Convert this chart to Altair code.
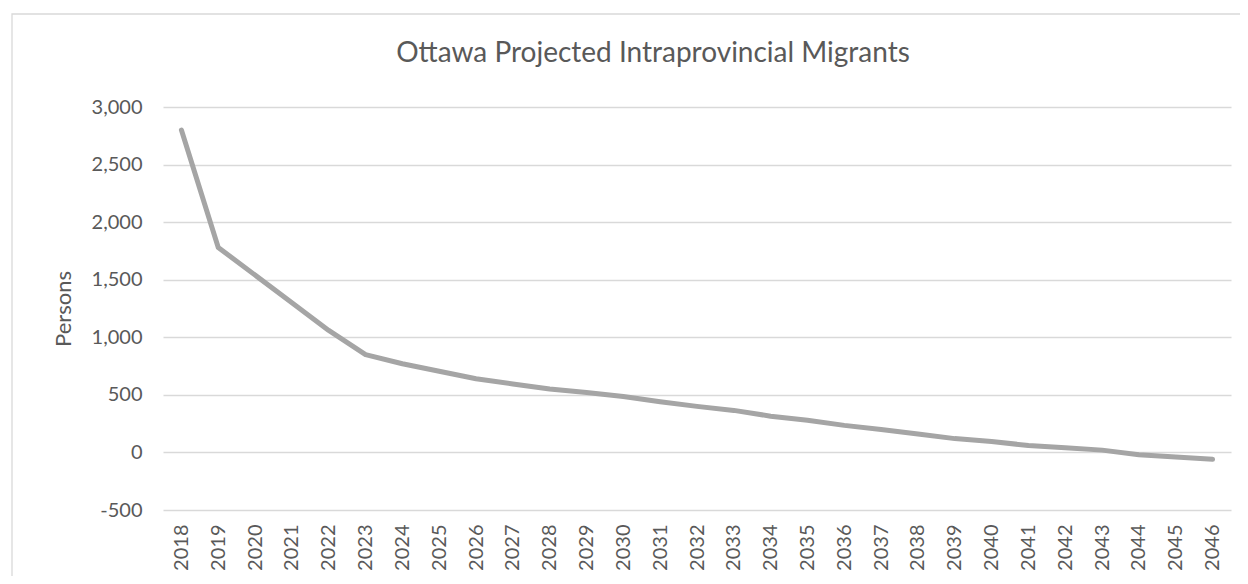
import altair as alt
import pandas as pd

years = [str(y) for y in range(2018, 2047)]
migrants = [2800, 1780, 1540, 1300, 1060, 850, 770, 705, 640, 595,
            550, 520, 485, 440, 400, 365, 315, 280, 235, 200,
            160, 120, 95, 60, 40, 20, -20, -40, -60]
y_ticks = [-500, 0, 500, 1000, 1500, 2000, 2500, 3000]

df = pd.DataFrame({"Year": years, "Persons": migrants})

FONT = "Lato"
TEXT = "#595959"
GRID = "#d9d9d9"

line = alt.Chart(df).mark_line(
    color="#a5a5a5", strokeWidth=5, strokeCap="round", strokeJoin="round"
).encode(
    x=alt.X("Year:O", sort=years, title=None,
            axis=alt.Axis(labelAngle=-90, labelPadding=14, ticks=False, domain=False,
                          grid=False, labelFontSize=20, labelColor=TEXT, labelFont=FONT)),
    y=alt.Y("Persons:Q", scale=alt.Scale(domain=[-500, 3000], nice=False),
            axis=alt.Axis(values=y_ticks, format=",d",
                          labelExpr="replace(datum.label, '\u2212', '-')",
                          title="Persons", ticks=False,
                          domain=False, grid=True, gridColor=GRID, gridWidth=1.3,
                          labelPadding=21, labelFontSize=20, labelColor=TEXT, labelFont=FONT,
                          titleFontSize=22, titleFont=FONT, titleColor=TEXT,
                          titleFontWeight="normal", titleAngle=-90, titleX=-100,
                          titleY=201.5, titleBaseline="middle", titleAlign="center")),
)

frame = alt.Chart(alt.Data(values=[{}])).mark_rect(
    fillOpacity=0, stroke=GRID, strokeWidth=1.3
).encode(
    x=alt.value(-151), x2=alt.value(1100), y=alt.value(-93), y2=alt.value(600)
)

chart = alt.layer(frame, line).properties(
    width=1068, height=403,
    title=alt.TitleParams("Ottawa Projected Intraprovincial Migrants",
                          font=FONT, fontSize=28, fontWeight="normal", color=TEXT,
                          anchor="middle", frame="group", dx=-44,
                          baseline="alphabetic", offset=-77),
    autosize=alt.AutoSizeParams(type="none"),
    padding={"left": 155, "top": 99, "right": 9, "bottom": 66},
).configure_view(stroke=None)

chart.save("out.html", embed_options={"renderer": "svg", "actions": False})
